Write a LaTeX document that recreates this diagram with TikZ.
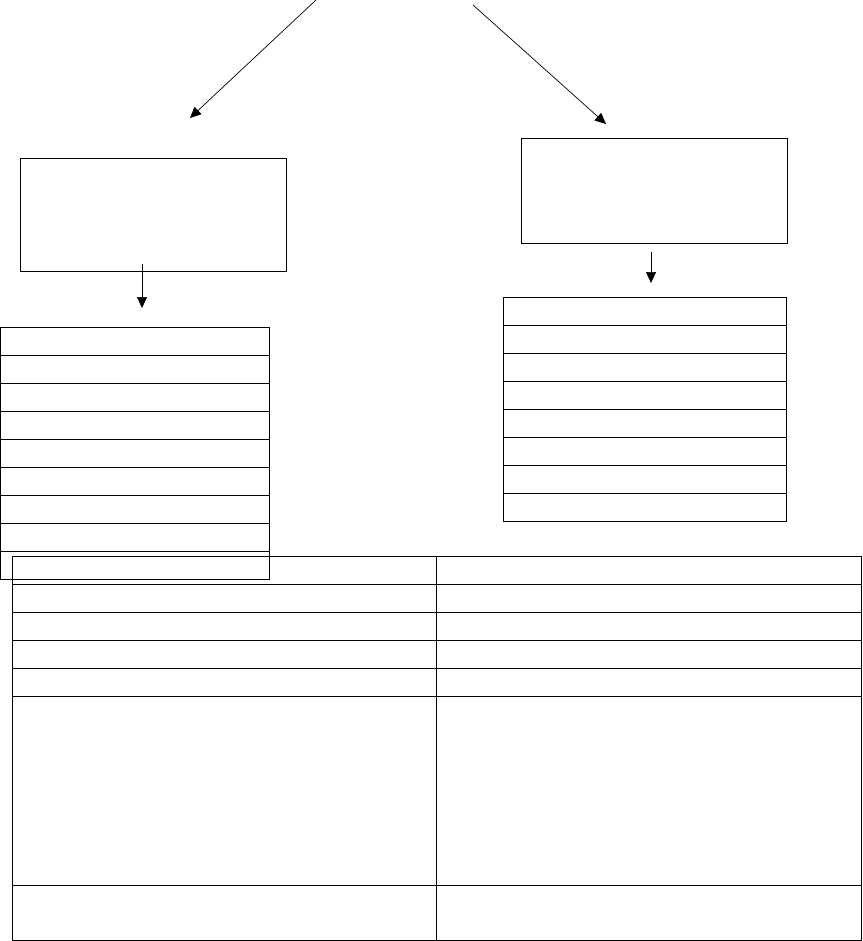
\documentclass[tikz,border=0pt]{standalone}
\usetikzlibrary{arrows.meta}
\tikzset{
  cell/.style={draw, rectangle, anchor=north west, inner sep=0pt, outer sep=0pt, line width=0.9pt},
  pointer/.style={-{Triangle[width=10pt,length=11pt]}, line width=0.7pt},
}
\begin{document}
\begin{tikzpicture}[x=1pt,y=-1pt]
\useasboundingbox (0,0) rectangle (862,941);
% upper boxes
\node[cell, minimum width=266pt, minimum height=113pt] (lbox) at (20,158) {};
\node[cell, minimum width=266pt, minimum height=105pt] (rbox) at (521,138) {};
% bottom table
\foreach \y/\h/\n in {556/28/1, 584/28/2, 612/28/3, 640/28/4, 668/28/5, 696/189/6, 885/55/7} {
  \node[cell, minimum width=424pt, minimum height=\h pt] (tl\n) at (12,\y) {};
  \node[cell, minimum width=425pt, minimum height=\h pt] (tr\n) at (436,\y) {};
}
% lists
\foreach \i in {0,...,8}
  \node[cell, minimum width=268.5pt, minimum height=28pt] (lrow\i) at (0.5,327+28*\i) {};
\foreach \i in {0,...,7}
  \node[cell, minimum width=283pt, minimum height=28pt] (rrow\i) at (503,297+28*\i) {};
% arrows
\coordinate (ltop) at (316,0);
\coordinate (lend) at (190,118);
\coordinate (rtop) at (473,5);
\coordinate (rend) at (606,124);
\coordinate (lfrom) at (142,264);
\coordinate (lto) at (142,308);
\coordinate (rfrom) at (651,252);
\coordinate (rto) at (651,283);
\draw[pointer] (ltop) -- (lend);
\draw[pointer] (rtop) -- (rend);
\draw[pointer] (lfrom) -- (lto);
\draw[pointer] (rfrom) -- (rto);
\end{tikzpicture}
\end{document}
